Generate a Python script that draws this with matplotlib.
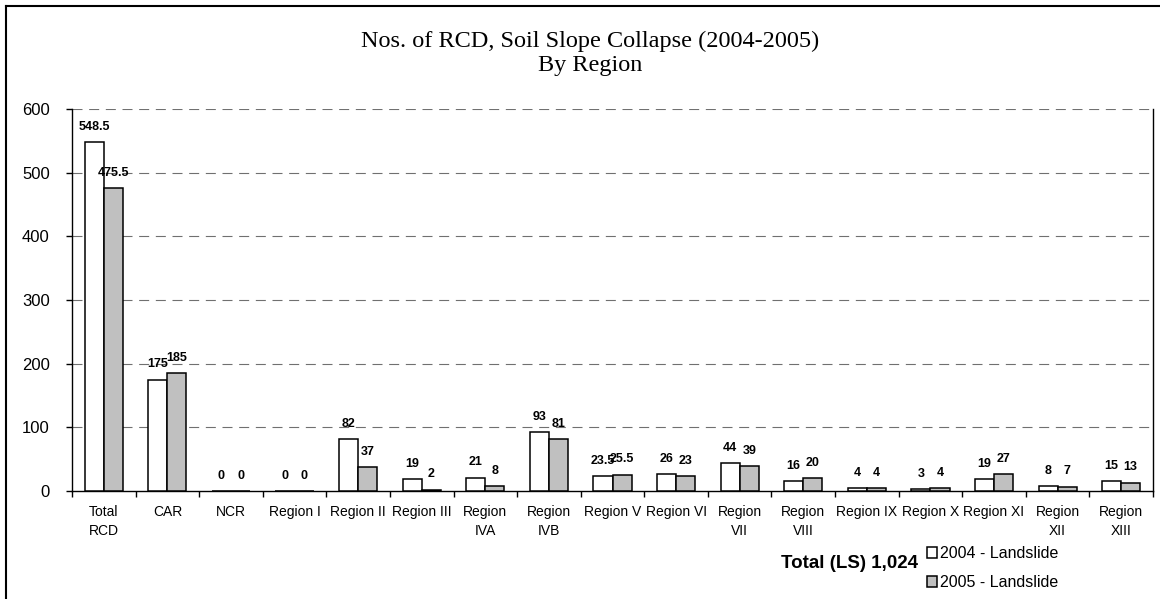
import matplotlib
matplotlib.use("Agg")
import matplotlib.pyplot as plt
from matplotlib.lines import Line2D
from matplotlib.patches import Patch
import numpy as np

categories = ["Total\nRCD", "CAR", "NCR", "Region I", "Region II", "Region III",
              "Region\nIVA", "Region\nIVB", "Region V", "Region VI", "Region\nVII",
              "Region\nVIII", "Region IX", "Region X", "Region XI", "Region\nXII",
              "Region\nXIII"]
ls_2004 = [548.5, 175, 0, 0, 82, 19, 21, 93, 23.5, 26, 44, 16, 4, 3, 19, 8, 15]
ls_2005 = [475.5, 185, 0, 0, 37, 2, 8, 81, 25.5, 23, 39, 20, 4, 4, 27, 7, 13]
series_names = ["2004 - Landslide", "2005 - Landslide"]
y_ticks = [0, 100, 200, 300, 400, 500, 600]
title_lines = ["Nos. of RCD, Soil Slope Collapse (2004-2005)", "By Region"]
total_text = "Total (LS) 1,024"

W, H = 1160, 599
plt.rcParams['font.family'] = ['Liberation Sans', 'DejaVu Sans']

fig = plt.figure(figsize=(W / 100, H / 100), dpi=100)
fig.patch.set_facecolor("white")

def fx(x):
    return x / W

def fy(y):
    return 1 - y / H

left, right, top, bottom = 72, 1153, 109, 491
ax = fig.add_axes([fx(left), fy(bottom), (right - left) / W, (bottom - top) / H])

n = len(categories)
x = np.arange(n)
bw = 0.3
ax.bar(x - bw / 2, ls_2004, width=bw, color="white", edgecolor="black",
       linewidth=1.1, zorder=3, label=series_names[0])
ax.bar(x + bw / 2, ls_2005, width=bw, color="#C0C0C0", edgecolor="black",
       linewidth=1.1, zorder=3, label=series_names[1])

for xi, v in zip(x - bw / 2, ls_2004):
    ax.annotate(f"{v:g}", xy=(xi, v), xytext=(0, 11), textcoords="offset points",
                ha="center", va="center", fontsize=9, fontweight="bold", zorder=5)
for xi, v in zip(x + bw / 2, ls_2005):
    ax.annotate(f"{v:g}", xy=(xi, v), xytext=(0, 11), textcoords="offset points",
                ha="center", va="center", fontsize=9, fontweight="bold", zorder=5)

ax.set_xlim(-0.5, n - 0.5)
ax.set_ylim(0, 600)
ax.set_yticks(y_ticks)
ax.set_yticklabels([str(t) for t in y_ticks], fontsize=12)
ax.tick_params(axis="y", direction="out", length=4, width=1, pad=12)

ax.set_xticks(x)
ax.set_xticklabels(categories, fontsize=10, linespacing=1.45)
ax.tick_params(axis="x", which="major", length=0, pad=10)
ax.set_xticks(np.arange(n + 1) - 0.5, minor=True)
ax.tick_params(axis="x", which="minor", direction="out", length=4, width=1)

for t in y_ticks[1:]:
    ax.axhline(t, color="#707070", linewidth=0.8, linestyle=(0, (9, 6)), zorder=1)

ax.spines["top"].set_visible(False)
for s in ["left", "bottom", "right"]:
    ax.spines[s].set_color("black")
    ax.spines[s].set_linewidth(1.0)

# Title
fig.text(fx(590), fy(47), title_lines[0], family="Liberation Serif", fontsize=17.5,
         ha="center", va="baseline")
fig.text(fx(590), fy(71), title_lines[1], family="Liberation Serif", fontsize=17.5,
         ha="center", va="baseline")

# Total annotation
fig.text(fx(918), fy(564), total_text, fontsize=13.5, fontweight="bold",
         ha="right", va="center")

# Legend
handles = [Patch(facecolor="white", edgecolor="black", linewidth=1.1),
           Patch(facecolor="#C0C0C0", edgecolor="black", linewidth=1.1)]
fig.legend(handles, series_names, loc="upper left",
           bbox_to_anchor=(fx(927), fy(546)), frameon=False, fontsize=11.5,
           handlelength=0.65, handleheight=0.65, handletextpad=0.15,
           labelspacing=0.88, borderpad=0, borderaxespad=0)

# Outer chart-area frame (left and top edges visible)
fig.add_artist(Line2D([fx(6), fx(6)], [fy(6), fy(H + 5)], transform=fig.transFigure,
                      color="black", linewidth=1.5))
fig.add_artist(Line2D([fx(6), fx(W + 5)], [fy(6), fy(6)], transform=fig.transFigure,
                      color="black", linewidth=1.5))

fig.savefig("out.png", dpi=100, facecolor="white")
